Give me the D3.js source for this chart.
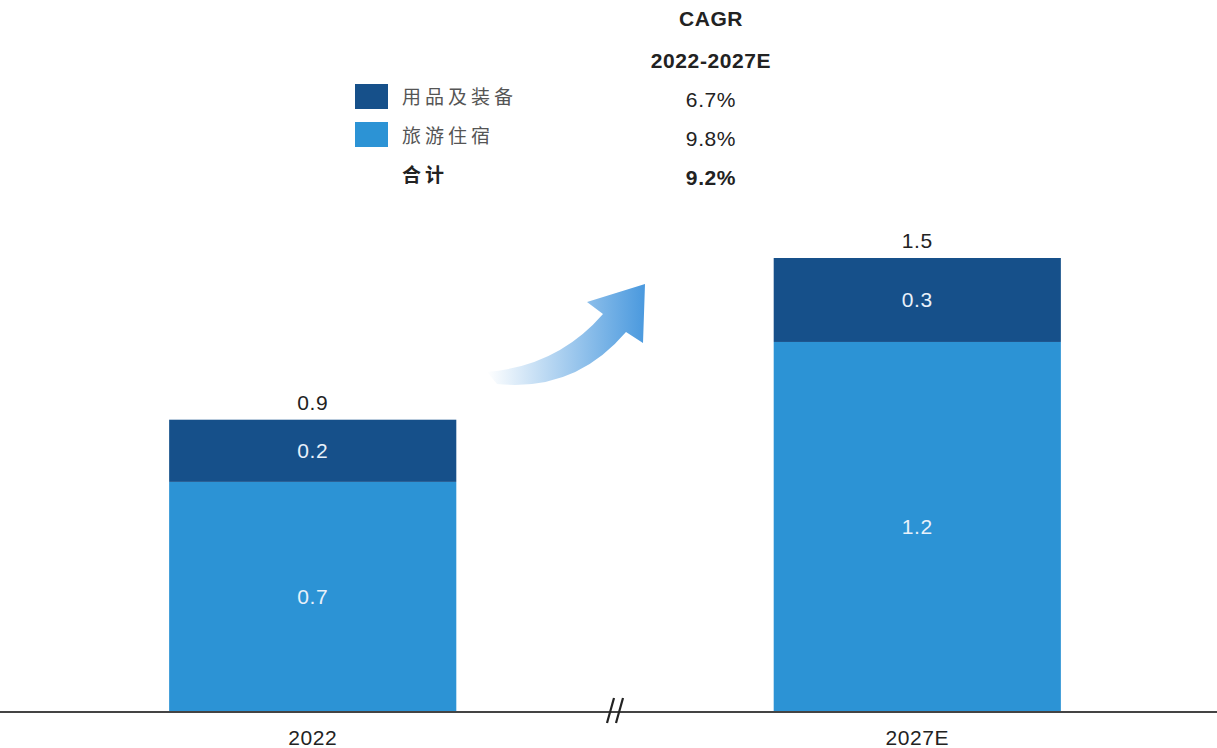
<!DOCTYPE html>
<meta charset="utf-8">
<style>
body { margin: 0; background: #fff; font-family: 'Liberation Sans', Arial, sans-serif; }
.lbl { font-size: 21px; fill: #222; letter-spacing: 0.6px; }
.inner { font-size: 21px; fill: #e8f1fa; letter-spacing: 0.6px; }
.cn { font-family: 'Noto Sans CJK SC', sans-serif; font-size: 19px; fill: #555; letter-spacing: 4px; }
</style>
<body>
<script src="https://cdn.jsdelivr.net/npm/d3@7"></script>
<script>
// data
var years = ["2022", "2027E"];
var lodging = [0.74, 1.19];      // 旅游住宿
var gear = [0.20, 0.27];         // 用品及装备
var seriesNames = ["用品及装备", "旅游住宿", "合计"];
var cagr = ["6.7%", "9.8%", "9.2%"];
var cagrHead = ["CAGR", "2022-2027E"];

var W = 1217, H = 748;
var colDark = "#16508a", colLight = "#2c93d5";

var svg = d3.select("body").append("svg").attr("width", W).attr("height", H);

var x = d3.scaleBand().domain(years).range([18, 1212]).paddingInner(0.525).paddingOuter(0.25);
var y = d3.scaleLinear().domain([0, 1.46]).range([712, 258]);
var fmt = d3.format(".1f");

var rows = years.map((d, i) => ({ year: d, light: lodging[i], dark: gear[i], total: lodging[i] + gear[i] }));

// light segment
svg.selectAll(".light").data(rows).enter().append("rect")
  .attr("x", d => x(d.year)).attr("width", x.bandwidth())
  .attr("y", d => y(d.light)).attr("height", d => y(0) - y(d.light))
  .attr("fill", colLight);
// dark segment
svg.selectAll(".dark").data(rows).enter().append("rect")
  .attr("x", d => x(d.year)).attr("width", x.bandwidth())
  .attr("y", d => y(d.total)).attr("height", d => y(d.light) - y(d.total))
  .attr("fill", colDark);

var cx = d => x(d.year) + x.bandwidth() / 2;
svg.selectAll(".il").data(rows).enter().append("text").attr("class", "inner")
  .attr("x", cx).attr("y", d => (y(0) + y(d.light)) / 2).attr("dy", "0.35em")
  .attr("text-anchor", "middle").text(d => fmt(d.light));
svg.selectAll(".id").data(rows).enter().append("text").attr("class", "inner")
  .attr("x", cx).attr("y", d => (y(d.light) + y(d.total)) / 2).attr("dy", "0.35em")
  .attr("text-anchor", "middle").text(d => fmt(d.dark));
svg.selectAll(".tot").data(rows).enter().append("text").attr("class", "lbl")
  .attr("x", cx).attr("y", d => y(d.total) - 10)
  .attr("text-anchor", "middle").text(d => fmt(d.total));

// axis
svg.append("line").attr("x1", 0).attr("x2", W).attr("y1", 712).attr("y2", 712)
  .attr("stroke", "#444").attr("stroke-width", 2);
svg.selectAll(".tick").data(years).enter().append("text").attr("class", "lbl")
  .attr("x", d => x(d) + x.bandwidth() / 2).attr("y", 745)
  .attr("text-anchor", "middle").text(d => d);
// break mark
[0, 9].forEach(o => {
  svg.append("line").attr("x1", 607 + o).attr("y1", 723).attr("x2", 614 + o).attr("y2", 698)
    .attr("stroke", "#222").attr("stroke-width", 2.2);
});

// arrow
var defs = svg.append("defs");
var g = defs.append("linearGradient").attr("id", "ag").attr("x1", "0%").attr("x2", "100%");
g.append("stop").attr("offset", "0%").attr("stop-color", "#ffffff");
g.append("stop").attr("offset", "100%").attr("stop-color", "#4a99de");
svg.append("path")
  .attr("d", "M487,372 Q558,366 603,314 L587,302 L645,284 L643,343 L626,332 Q575,392 497,384 Z")
  .attr("fill", "url(#ag)");

// legend
var lg = svg.append("g");
[colDark, colLight].forEach((c, i) => {
  lg.append("rect").attr("x", 355).attr("y", 84 + i * 38).attr("width", 33).attr("height", 25).attr("fill", c);
});
seriesNames.forEach((n, i) => {
  lg.append("text").attr("class", "cn").attr("x", 402).attr("y", 97 + i * 39).attr("dy", "0.35em")
    .style("font-weight", i === 2 ? "bold" : null).style("fill", i === 2 ? "#222" : null).text(n);
});
cagrHead.forEach((t, i) => {
  lg.append("text").attr("class", "lbl").attr("x", 711).attr("y", 19 + i * 42).attr("dy", "0.35em")
    .attr("text-anchor", "middle").style("font-weight", "bold").text(t);
});
cagr.forEach((t, i) => {
  lg.append("text").attr("class", "lbl").attr("x", 711).attr("y", 100 + i * 39).attr("dy", "0.35em")
    .attr("text-anchor", "middle").style("font-weight", i === 2 ? "bold" : null).text(t);
});
</script>
</body>
